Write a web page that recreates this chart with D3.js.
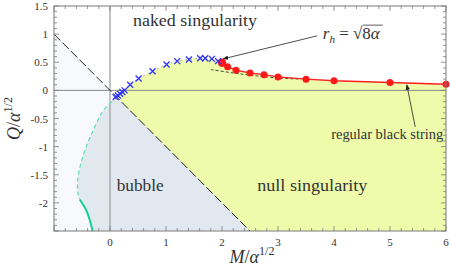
<!DOCTYPE html>
<html>
<head>
<meta charset="utf-8">
<script src="https://cdn.jsdelivr.net/npm/d3@7"></script>
<style>
  body { margin: 0; background: #fff; }
  text { font-family: "Liberation Serif", "DejaVu Serif", serif; fill: #333; }
</style>
</head>
<body>
<div id="chart"></div>
<script>
// numerical solutions
const crossM = [0.10, 0.14, 0.18, 0.22, 0.26, 0.36, 0.51, 0.76, 1.01, 1.20, 1.41, 1.61, 1.70, 1.82, 1.93];
const crossQ = [-0.12, -0.09, -0.06, -0.03, 0.00, 0.10, 0.21, 0.34, 0.46, 0.52, 0.55, 0.57, 0.57, 0.56, 0.52];

const redM = [2.0, 2.1, 2.25, 2.5, 2.75, 3.0, 3.5, 4.0, 5.0, 6.0];
const redQ = [0.49, 0.42, 0.36, 0.31, 0.28, 0.24, 0.20, 0.17, 0.14, 0.11];

// bubble boundary
const cyanDashM = [0.10, 0.05, -0.12, -0.30, -0.45, -0.55, -0.58, -0.57, -0.54];
const cyanDashQ = [-0.10, -0.18, -0.36, -0.71, -1.07, -1.42, -1.65, -1.85, -1.94];
const cyanSolidM = [-0.54, -0.42, -0.36, -0.31];
const cyanSolidQ = [-1.94, -2.14, -2.31, -2.50];

// approximate curve under the red branch
const approxM = [1.8, 2.2, 2.6, 3.0, 3.4];
const approxQ = [0.37, 0.31, 0.26, 0.22, 0.20];

// Q = -M line
const diagM = [-1, 2.5];
const diagQ = [1, -2.5];

const xTicks = [0, 1, 2, 3, 4, 5, 6];
const yTicks = [1.5, 1, 0.5, 0, -0.5, -1, -1.5, -2];

const margin = {top: 6, right: 4, bottom: 42, left: 54},
    width = 450 - margin.left - margin.right,
    height = 273 - margin.top - margin.bottom;

const svg = d3.select("#chart")
  .append("svg")
    .attr("width", 450)
    .attr("height", 273)
  .append("g")
    .attr("transform", `translate(${margin.left}, ${margin.top})`);

const x = d3.scaleLinear().domain([-1, 6]).range([0, width]);
const y = d3.scaleLinear().domain([-2.5, 1.5]).range([height, 0]);

const zip = (a, b) => a.map((v, i) => [v, b[i]]);
const crossPts = zip(crossM, crossQ);
const redPts = zip(redM, redQ);
const cyanPts = zip(cyanDashM, cyanDashQ).concat(zip(cyanSolidM, cyanSolidQ).slice(1));

const lin = d3.line().x(d => x(d[0])).y(d => y(d[1]));
const smooth = d3.line().x(d => x(d[0])).y(d => y(d[1])).curve(d3.curveCatmullRom);
const P = (m, q) => `${x(m)},${y(q)}`;

// regions
const cyanStr = smooth(cyanPts); // from top junction down to the bottom
svg.append("path")
  .attr("d", `M${P(diagM[0], diagQ[0])}L${cyanStr.slice(1)}L${P(-1, -2.5)}Z`)
  .attr("fill", "#f7f9fc");
svg.append("path")
  .attr("d", `${cyanStr}L${P(diagM[1], diagQ[1])}Z`)
  .attr("fill", "#e2e8f0");
const topPts = crossPts.concat(redPts);
svg.append("path")
  .attr("d", `${smooth(topPts)}L${P(6, -2.5)}L${P(diagM[1], diagQ[1])}L${P(crossM[0], cyanDashQ[0])}Z`)
  .attr("fill", "#edfbab");

// axes through origin
svg.append("line").attr("x1", x(0)).attr("x2", x(0)).attr("y1", 0).attr("y2", height)
  .attr("stroke", "#8a8a8a").attr("stroke-width", 1);
svg.append("line").attr("x1", 0).attr("x2", width).attr("y1", y(0)).attr("y2", y(0))
  .attr("stroke", "#8a8a8a").attr("stroke-width", 1);

// diagonal
svg.append("path")
  .attr("d", lin(zip(diagM, diagQ)))
  .attr("fill", "none").attr("stroke", "#222").attr("stroke-width", 1)
  .attr("stroke-dasharray", "9,3");

// cyan boundary
svg.append("path")
  .attr("d", smooth(zip(cyanDashM, cyanDashQ)))
  .attr("fill", "none").attr("stroke", "#5fdcb8").attr("stroke-width", 1.2)
  .attr("stroke-dasharray", "4,3");
svg.append("path")
  .attr("d", smooth(zip(cyanSolidM, cyanSolidQ)))
  .attr("fill", "none").attr("stroke", "#16cf95").attr("stroke-width", 2);

// faint curve through the crosses
svg.append("path")
  .attr("d", smooth(crossPts.concat([redPts[0]])))
  .attr("fill", "none").attr("stroke", "#9aa690").attr("stroke-width", 0.8)
  .attr("stroke-dasharray", "2,3");

// approximate curve
svg.append("path")
  .attr("d", smooth(zip(approxM, approxQ)))
  .attr("fill", "none").attr("stroke", "#44503a").attr("stroke-width", 1)
  .attr("stroke-dasharray", "3,2");

// red branch
svg.append("path")
  .attr("d", lin(redPts))
  .attr("fill", "none").attr("stroke", "#ff2020").attr("stroke-width", 1.5);
svg.selectAll(".dot")
  .data(redPts)
  .join("circle")
    .attr("cx", d => x(d[0]))
    .attr("cy", d => y(d[1]))
    .attr("r", (d, i) => i === 0 ? 4.2 : 3.5)
    .attr("fill", "#ff1a1a");

// blue crosses
const cs = 3;
svg.selectAll(".cross")
  .data(crossPts)
  .join("path")
    .attr("d", d => `M${x(d[0]) - cs},${y(d[1]) - cs}L${x(d[0]) + cs},${y(d[1]) + cs}M${x(d[0]) - cs},${y(d[1]) + cs}L${x(d[0]) + cs},${y(d[1]) - cs}`)
    .attr("stroke", "#3030ff").attr("stroke-width", 1.3).attr("fill", "none");

// frame with ticks on all sides
svg.append("rect").attr("width", width).attr("height", height)
  .attr("fill", "none").attr("stroke", "#7a7a7a").attr("stroke-width", 1);

const xMinor = d3.range(-1, 6.001, 0.2);
const yMinor = d3.range(-2.5, 1.501, 0.1);
const isMajor = (v, step) => Math.abs(v / step - Math.round(v / step)) < 1e-6;
const tickG = svg.append("g").attr("stroke", "#7a7a7a").attr("stroke-width", 0.8);
xMinor.forEach(v => {
  const len = isMajor(v, 1) ? 5 : 3;
  tickG.append("line").attr("x1", x(v)).attr("x2", x(v)).attr("y1", height).attr("y2", height - len);
  tickG.append("line").attr("x1", x(v)).attr("x2", x(v)).attr("y1", 0).attr("y2", len);
});
yMinor.forEach(v => {
  const len = isMajor(v, 0.5) ? 5 : 3;
  tickG.append("line").attr("x1", 0).attr("x2", len).attr("y1", y(v)).attr("y2", y(v));
  tickG.append("line").attr("x1", width).attr("x2", width - len).attr("y1", y(v)).attr("y2", y(v));
});

// tick labels
svg.selectAll(".xt")
  .data(xTicks)
  .join("text")
    .attr("x", d => x(d))
    .attr("y", height + 15)
    .attr("text-anchor", "middle")
    .style("font-size", "11px")
    .text(d => d);
svg.selectAll(".yt")
  .data(yTicks)
  .join("text")
    .attr("x", -6)
    .attr("y", d => y(d) + 4)
    .attr("text-anchor", "end")
    .style("font-size", "11px")
    .text(d => d);

// axis titles
const xl = svg.append("text")
  .attr("x", 198).attr("y", 257)
  .attr("text-anchor", "middle")
  .style("font-size", "18px");
xl.append("tspan").style("font-style", "italic").text("M");
xl.append("tspan").text("/");
xl.append("tspan").style("font-style", "italic").text("α");
xl.append("tspan").attr("dy", -8).style("font-size", "12px").text("1/2");

const yl = svg.append("text")
  .attr("transform", `translate(-34, ${y(-0.5)}) rotate(-90)`)
  .attr("text-anchor", "middle")
  .style("font-size", "18px");
yl.append("tspan").style("font-style", "italic").text("Q");
yl.append("tspan").text("/");
yl.append("tspan").style("font-style", "italic").text("α");
yl.append("tspan").attr("dy", -8).style("font-size", "12px").text("1/2");

// region labels
const label = (txt, m, q, len, fs) => svg.append("text")
  .attr("x", x(m)).attr("y", y(q))
  .attr("textLength", len).attr("lengthAdjust", "spacingAndGlyphs")
  .style("font-size", fs + "px").text(txt);
label("naked singularity", 0.41, 1.15, 124, 16);
label("bubble", 0.12, -1.79, 47, 16);
label("null singularity", 2.63, -1.79, 110, 16);
label("regular black string", 3.95, -0.87, 112, 15);

// r_h = sqrt(8 alpha)
const rh = svg.append("text").attr("x", x(3.8)).attr("y", y(0.92)).style("font-size", "17px");
rh.append("tspan").style("font-style", "italic").text("r");
rh.append("tspan").attr("dy", 4).style("font-size", "11px").style("font-style", "italic").text("h");
rh.append("tspan").attr("dy", -4).text(" = √");
rh.append("tspan").text("8");
rh.append("tspan").style("font-style", "italic").text("α");
svg.append("line")
  .attr("x1", x(3.8) + 40).attr("x2", x(3.8) + 60)
  .attr("y1", y(0.92) - 13.5).attr("y2", y(0.92) - 13.5)
  .attr("stroke", "#333").attr("stroke-width", 0.8);

// arrows
svg.append("defs").append("marker")
  .attr("id", "ah").attr("viewBox", "0 0 10 10").attr("refX", 9).attr("refY", 5)
  .attr("markerWidth", 7).attr("markerHeight", 7).attr("orient", "auto")
  .append("path").attr("d", "M0,1L10,5L0,9Z").attr("fill", "#222");
svg.append("line")
  .attr("x1", x(3.7)).attr("y1", y(0.97))
  .attr("x2", x(2.02)).attr("y2", y(0.56))
  .attr("stroke", "#222").attr("stroke-width", 0.8).attr("marker-end", "url(#ah)");
svg.append("line")
  .attr("x1", x(5.45)).attr("y1", y(-0.65))
  .attr("x2", x(5.3)).attr("y2", y(0.1))
  .attr("stroke", "#222").attr("stroke-width", 0.8).attr("marker-end", "url(#ah)");
</script>
</body>
</html>
